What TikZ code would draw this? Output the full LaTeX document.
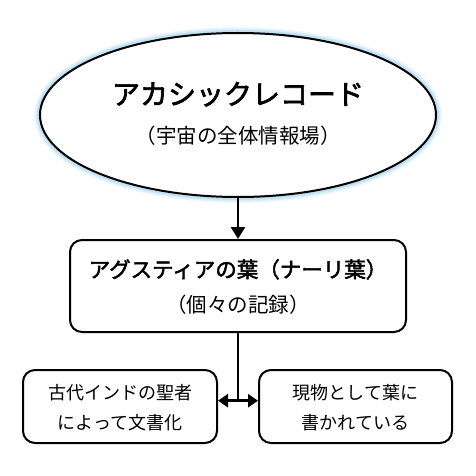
\documentclass[tikz,border=0pt]{standalone}
\usepackage{fontspec}
\setmainfont{Noto Sans CJK JP}
\newfontfamily\medfont[FakeBold=2.2]{Noto Sans CJK JP}
\usetikzlibrary{shapes.geometric,arrows.meta}
\definecolor{glowblue}{HTML}{9FD4F0}
\tikzset{
  shape line/.style={draw=black, line width=2pt, fill=white},
  boxnode/.style={shape line, rectangle, rounded corners=12pt, inner sep=0pt},
  txt/.style={anchor=base, inner sep=0pt},
  conn/.style={line width=2.6pt, black},
  downhead/.tip={Triangle[length=12pt, width=14pt]},
  sidehead/.tip={Triangle[length=10pt, width=13pt]},
}
\begin{document}
\begin{tikzpicture}[x=1pt,y=-1pt]
\useasboundingbox (0,0) rectangle (476,476);
\fill[white] (0,0) rectangle (476,476);
% glow
\foreach \w/\o in {12/0.15, 9/0.25, 6/0.45} {
  \draw[glowblue, line width=\w pt, opacity=\o] (238,115) ellipse [x radius=198, y radius=82];
}
\node[shape line, ellipse, minimum width=396pt, minimum height=164pt, inner sep=0pt] (akashic) at (238,115) {};
\node[txt, font=\fontsize{28}{30}\medfont] (akT) at (238,104.5) {アカシックレコード};
\node[txt, font=\fontsize{20.5}{24}\selectfont] (akS) at (238,143) {（宇宙の全体情報場）};

\node[boxnode, minimum width=336pt, minimum height=92pt] (leaf) at (238,286) {};
\node[txt, font=\fontsize{21.5}{24}\medfont] (leafT) at (238,277.5) {アグスティアの葉（ナーリ葉）};
\node[txt, font=\fontsize{20.5}{24}\selectfont] (leafS) at (238,312.5) {（個々の記録）};

\node[boxnode, minimum width=194pt, minimum height=73pt] (left) at (120,406.5) {};
\node[txt, font=\fontsize{18}{22}\selectfont] (leftA) at (120,399.8) {古代インドの聖者};
\node[txt, font=\fontsize{18}{22}\selectfont] (leftB) at (120,429.8) {によって文書化};

\node[boxnode, minimum width=193pt, minimum height=73pt] (right) at (355.5,406.5) {};
\node[txt, font=\fontsize{18}{22}\selectfont] (rightA) at (355.5,399.8) {現物として葉に};
\node[txt, font=\fontsize{18}{22}\selectfont] (rightB) at (355.5,429.8) {書かれている};

\draw[conn, -{downhead}] (akashic.south) -- (leaf.north);
\coordinate (junc) at (238,400.7);
\draw[conn] (leaf.south) -- (junc);
\draw[conn, {sidehead}-{sidehead}] (junc -| left.east) -- (junc -| right.west);
\end{tikzpicture}
\end{document}
